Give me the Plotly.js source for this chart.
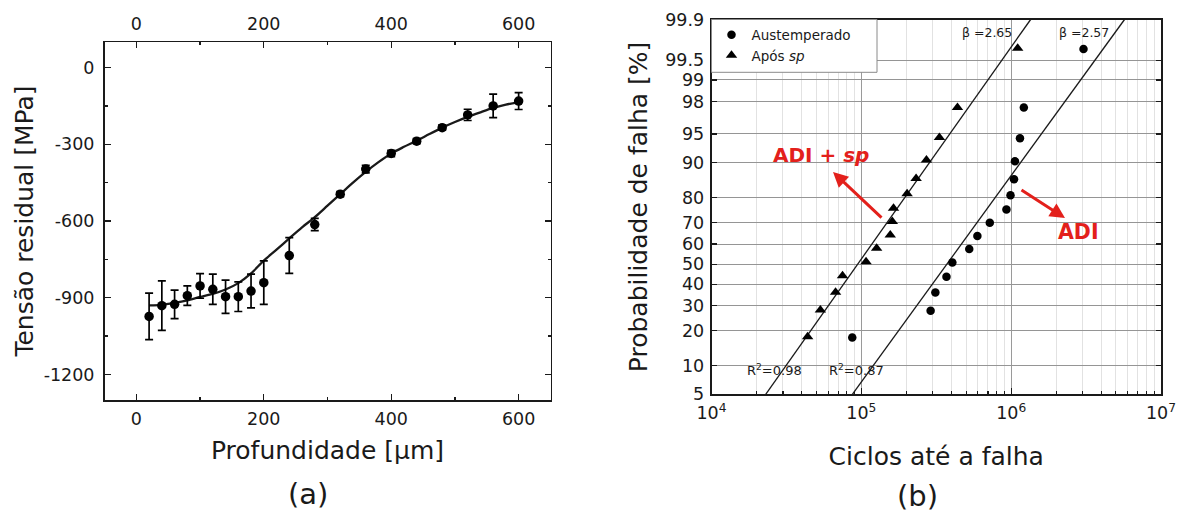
<!DOCTYPE html>
<html>
<head>
<meta charset="utf-8">
<script src="https://cdn.plot.ly/plotly-3.0.1.min.js"></script>
<style>
html,body{margin:0;padding:0;background:#fff;}
#chart{width:1178px;height:520px;}
</style>
</head>
<body>
<div id="chart"></div>
<script>
// ---------- (a) residual stress profile ----------
const depth = [20,40,60,80,100,120,140,160,180,200,240,280,320,360,400,440,480,520,560,600];
const stress = [-973,-931,-926,-892,-854,-867,-896,-896,-874,-841,-735,-614,-495,-397,-336,-288,-235,-185,-150,-131];
const stressErr = [91,97,56,38,48,59,65,58,66,85,70,24,10,15,12,10,10,22,46,33];
const fitDepth = [20,40,60,80,100,120,140,160,180,200,220,240,260,280,300,320,340,360,380,400,420,440,460,480,500,520,540,560,580,600];
const fitStress = [-930,-928,-920,-910,-897,-885,-868,-843,-805,-755,-712,-668,-625,-585,-540,-495,-450,-408,-370,-336,-310,-286,-260,-235,-213,-193,-175,-158,-145,-135];
const depthTicks = [0,200,400,600];
const stressTicks = [-1200,-900,-600,-300,0];

// ---------- (b) Weibull / probability plot ----------
const austN = [87000,290000,312000,370000,405000,525000,595000,720000,930000,990000,1045000,1060000,1145000,1215000,3040000];
const austF = [17.7,27.8,36.0,43.7,50.8,57.6,63.9,69.9,75.5,80.8,85.8,90.3,94.4,97.6,99.67];
const spN = [43800,53300,67300,74900,107500,126500,156000,161000,164000,202000,232000,272000,332000,438000,1105000];
const spF = [17.9,28.1,36.1,44.1,51.2,57.9,64.4,70.5,76.0,81.3,86.0,90.6,94.5,97.6,99.68];
const fitSpN = [23000,1349000];
const fitSpF = [5,99.9];
const fitAdiN = [87100,5710000];
const fitAdiF = [5,99.9];
const probTicks = [5,10,20,30,40,50,60,70,80,90,95,98,99,99.5,99.9];
const cycleTicks = [1e4,1e5,1e6,1e7];
const cycleTickText = ['10<sup>4</sup>','10<sup>5</sup>','10<sup>6</sup>','10<sup>7</sup>'];

// inverse standard normal CDF (Acklam)
function probit(p){
  const a=[-3.969683028665376e+01,2.209460984245205e+02,-2.759285104469687e+02,1.383577518672690e+02,-3.066479806614716e+01,2.506628277459239e+00];
  const b=[-5.447609879822406e+01,1.615858368580409e+02,-1.556989798598866e+02,6.680131188771972e+01,-1.328068155288572e+01];
  const c=[-7.784894002430293e-03,-3.223964580411365e-01,-2.400758277161838e+00,-2.549732539343734e+00,4.374664141464968e+00,2.938163982698783e+00];
  const d=[7.784695709041462e-03,3.224671290700398e-01,2.445134137142996e+00,3.754408661907416e+00];
  const pl=0.02425, ph=1-pl; let q,r;
  if(p<pl){q=Math.sqrt(-2*Math.log(p));return (((((c[0]*q+c[1])*q+c[2])*q+c[3])*q+c[4])*q+c[5])/((((d[0]*q+d[1])*q+d[2])*q+d[3])*q+1);}
  if(p>ph){q=Math.sqrt(-2*Math.log(1-p));return -(((((c[0]*q+c[1])*q+c[2])*q+c[3])*q+c[4])*q+c[5])/((((d[0]*q+d[1])*q+d[2])*q+d[3])*q+1);}
  q=p-0.5;r=q*q;return (((((a[0]*r+a[1])*r+a[2])*r+a[3])*r+a[4])*r+a[5])*q/(((((b[0]*r+b[1])*r+b[2])*r+b[3])*r+b[4])*r+1);
}
const pz = arr => arr.map(v => probit(v/100));

const W=1178, H=520;
const PX = x => x/W, PY = y => 1 - y/H;
const FONT = 'DejaVu Sans, Liberation Sans, Arial, sans-serif';
const INK = '#1a1a1a';
const RED = '#e3201b';

const minorCycles = [];
for (let e=4; e<7; e++) for (let k=2; k<=9; k++) minorCycles.push(k*Math.pow(10,e));

const traces = [
  {x: fitDepth, y: fitStress, xaxis:'x', yaxis:'y', mode:'lines', line:{color:INK, width:2.3, shape:'spline', smoothing:0.8}, showlegend:false, hoverinfo:'skip'},
  {x: depth, y: stress, xaxis:'x', yaxis:'y', mode:'markers', marker:{color:'#000', size:9.5},
   error_y:{type:'data', array:stressErr, visible:true, color:'#000', thickness:1.7, width:4}, showlegend:false},
  {x: depth, y: stress, xaxis:'x3', yaxis:'y', mode:'markers', marker:{opacity:0}, showlegend:false, hoverinfo:'skip'},
  {x: fitSpN, y: pz(fitSpF), xaxis:'x2', yaxis:'y2', mode:'lines', line:{color:INK, width:1.3}, showlegend:false, hoverinfo:'skip'},
  {x: fitAdiN, y: pz(fitAdiF), xaxis:'x2', yaxis:'y2', mode:'lines', line:{color:INK, width:1.3}, showlegend:false, hoverinfo:'skip'},
  {x: austN, y: pz(austF), xaxis:'x2', yaxis:'y2', mode:'markers', name:'Austemperado', marker:{symbol:'circle', color:'#000', size:8.5}},
  {x: spN, y: pz(spF), xaxis:'x2', yaxis:'y2', mode:'markers', name:'Após <i>sp</i>', marker:{symbol:'triangle-up', color:'#000', size:10}}
];

const tickFont = {family:FONT, size:17.5, color:INK};
const titleFont = {family:FONT, size:25, color:INK};

function note(x, y, text, size, color){
  return {xref:'paper', yref:'paper', x:PX(x), y:PY(y), xanchor:'center', yanchor:'middle',
          text:text, showarrow:false, font:{family:FONT, size:size, color:color}};
}

const layout = {
  width:W, height:H,
  margin:{l:0, r:0, t:0, b:0, pad:0},
  paper_bgcolor:'#fff', plot_bgcolor:'#fff',
  showlegend:true,
  xaxis:{domain:[PX(104.5),PX(550.5)], anchor:'y', range:[-50,650], showgrid:false, zeroline:false,
    showline:true, linecolor:INK, linewidth:1.5, mirror:true,
    ticks:'inside', ticklen:6, tickwidth:1.3, tickcolor:INK,
    tickmode:'array', tickvals:depthTicks, ticktext:depthTicks.map(String), tickfont:tickFont, ticklabelstandoff:2,
    minor:{tickmode:'array', tickvals:[100,300,500], ticks:'inside', ticklen:3, tickwidth:1.2, tickcolor:INK, showgrid:false},
    title:{text:'Profundidade [μm]', font:titleFont, standoff:14}},
  xaxis3:{overlaying:'x', anchor:'y', side:'top', range:[-50,650], showgrid:false, zeroline:false, showline:false,
    ticks:'inside', ticklen:6, tickwidth:1.3, tickcolor:INK,
    tickmode:'array', tickvals:depthTicks, ticktext:depthTicks.map(String), tickfont:tickFont, ticklabelstandoff:8,
    minor:{tickmode:'array', tickvals:[100,300,500], ticks:'inside', ticklen:3, tickwidth:1.2, tickcolor:INK, showgrid:false}},
  yaxis:{domain:[PY(400),PY(42)], anchor:'x', range:[-1300,100], showgrid:false, zeroline:false,
    showline:true, linecolor:INK, linewidth:1.5, mirror:'ticks',
    ticks:'inside', ticklen:6, tickwidth:1.3, tickcolor:INK,
    tickmode:'array', tickvals:stressTicks, ticktext:stressTicks.map(String), tickfont:tickFont, ticklabelstandoff:5,
    minor:{tickmode:'array', tickvals:[-1050,-750,-450,-150], ticks:'inside', ticklen:3, tickwidth:1.2, tickcolor:INK, showgrid:false},
    title:{text:'Tensão residual [MPa]', font:titleFont, standoff:3}},
  xaxis2:{domain:[PX(711.5),PX(1161)], anchor:'y2', type:'log', range:[4,7], zeroline:false,
    showgrid:true, gridcolor:'#9a9a9a', gridwidth:1,
    showline:true, linecolor:INK, linewidth:1.8, mirror:true,
    ticks:'inside', ticklen:6, tickwidth:1.3, tickcolor:INK,
    tickmode:'array', tickvals:cycleTicks, ticktext:cycleTickText, tickfont:tickFont, ticklabelstandoff:2,
    minor:{tickmode:'array', tickvals:minorCycles, ticks:'inside', ticklen:3, tickwidth:1.1, tickcolor:INK, showgrid:true, gridcolor:'#e2e2e2', gridwidth:1},
    title:{text:'Ciclos até a falha', font:titleFont, standoff:25}},
  yaxis2:{domain:[PY(394.3),PY(19.5)], anchor:'x2', range:[probit(0.05), probit(0.999)], zeroline:false,
    showgrid:true, gridcolor:'#959595', gridwidth:1,
    showline:true, linecolor:INK, linewidth:1.8, mirror:'ticks',
    ticks:'inside', ticklen:5, tickwidth:1.2, tickcolor:INK,
    tickmode:'array', tickvals:pz(probTicks), ticktext:probTicks.map(String), tickfont:tickFont, ticklabelstandoff:2,
    title:{text:'Probabilidade de falha [%]', font:titleFont, standoff:10}},
  legend:{x:PX(711.5), y:PY(19.5), xanchor:'left', yanchor:'top', bgcolor:'rgba(0,0,0,0)', borderwidth:0,
    font:{family:FONT, size:13.5, color:INK}},
  shapes:[
    {type:'rect', xref:'paper', yref:'paper', x0:PX(711.5), x1:PX(877), y0:PY(72.3), y1:PY(19.5),
     fillcolor:'#fff', line:{color:'#8a8a8a', width:1}, layer:'above'}
  ],
  annotations:[
    note(308, 494, '(a)', 29, INK),
    note(917, 496, '(b)', 29, INK),
    note(986.5, 32.5, 'β =2.65', 12.5, INK),
    note(1083.5, 32.5, 'β =2.57', 12.5, INK),
    note(774, 370, 'R<sup>2</sup>=0.98', 13, INK),
    note(856, 370, 'R<sup>2</sup>=0.87', 13, INK),
    note(821.5, 155, '<b>ADI + <i>sp</i></b>', 20, RED),
    note(1078, 231.5, '<b>ADI</b>', 20.5, RED),
    {xref:'paper', yref:'paper', x:PX(833), y:PY(172), ax:50, ay:47, axref:'pixel', ayref:'pixel', text:'', showarrow:true,
     arrowhead:2, arrowsize:1, arrowwidth:3, arrowcolor:RED},
    {xref:'paper', yref:'paper', x:PX(1065), y:PY(218), ax:-45, ay:-29, axref:'pixel', ayref:'pixel', text:'', showarrow:true,
     arrowhead:2, arrowsize:1, arrowwidth:3, arrowcolor:RED}
  ]
};

Plotly.newPlot('chart', traces, layout, {displayModeBar:false, staticPlot:true});
</script>
</body>
</html>
